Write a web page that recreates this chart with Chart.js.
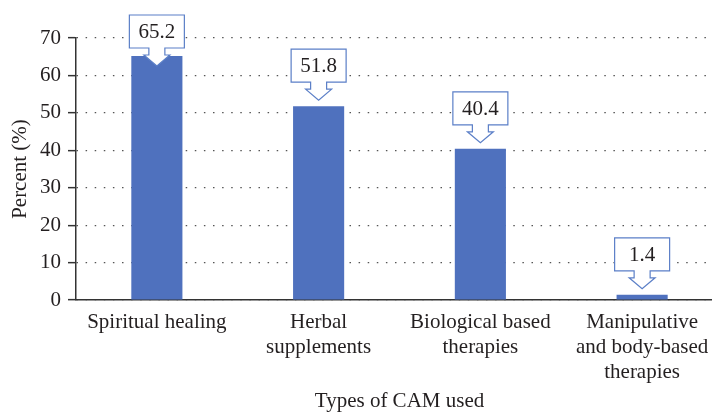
<!DOCTYPE html>
<html>
<head>
<meta charset="utf-8">
<script src="https://cdn.jsdelivr.net/npm/chart.js@4/dist/chart.umd.min.js"></script>
<style>
  html, body { margin: 0; padding: 0; background: #fff; overflow: hidden; }
  #wrap { width: 724px; height: 412px; position: relative; }
</style>
</head>
<body>
<div id="wrap"><canvas id="camChart"></canvas></div>
<script>
'use strict';

// ---------------------------------------------------------------------------
// Data
// ---------------------------------------------------------------------------

const categories = [
  ['Spiritual healing'],
  ['Herbal', 'supplements'],
  ['Biological based', 'therapies'],
  ['Manipulative', 'and body-based', 'therapies'],
];
const percentUsed = [65.2, 51.8, 40.4, 1.4];
const yTicks      = [0, 10, 20, 30, 40, 50, 60, 70];

const BAR_BLUE  = '#4f71be';
const EDGE_BLUE = '#5b7fc7';
const INK       = '#231f20';
const FONT      = "'Liberation Serif', 'Times New Roman', serif";

// ---------------------------------------------------------------------------
// Callout boxes (down-arrow shape) above each bar
// ---------------------------------------------------------------------------

const calloutPlugin = {
  id: 'callouts',
  afterDatasetsDraw(chart) {
    const ctx  = chart.ctx;
    const meta = chart.getDatasetMeta(0);
    const halfW = 27.5, boxH = 33;
    const stemW = 8, stemH = 7, headW = 13, headH = 11;

    meta.data.forEach((bar, i) => {
      const x = bar.x;
      let bottom = bar.y - 24;
      let top = bottom - boxH;
      if (top < 15) { top = 15; bottom = top + boxH; }

      ctx.save();
      ctx.beginPath();
      ctx.moveTo(x - halfW, top);
      ctx.lineTo(x + halfW, top);
      ctx.lineTo(x + halfW, bottom);
      ctx.lineTo(x + stemW, bottom);
      ctx.lineTo(x + stemW, bottom + stemH);
      ctx.lineTo(x + headW, bottom + stemH);
      ctx.lineTo(x, bottom + stemH + headH);
      ctx.lineTo(x - headW, bottom + stemH);
      ctx.lineTo(x - stemW, bottom + stemH);
      ctx.lineTo(x - stemW, bottom);
      ctx.lineTo(x - halfW, bottom);
      ctx.closePath();
      ctx.fillStyle = '#fff';
      ctx.fill();
      ctx.lineWidth = 1.2;
      ctx.strokeStyle = EDGE_BLUE;
      ctx.stroke();

      ctx.fillStyle = INK;
      ctx.font = `21px ${FONT}`;
      ctx.textAlign = 'center';
      ctx.textBaseline = 'middle';
      ctx.fillText(percentUsed[i].toFixed(1), x, (top + bottom) / 2 + 1);
      ctx.restore();
    });
  },
};

// ---------------------------------------------------------------------------
// Chart
// ---------------------------------------------------------------------------

Chart.defaults.font.family = FONT;
Chart.defaults.font.size = 21;
Chart.defaults.color = INK;

new Chart(document.getElementById('camChart').getContext('2d'), {
  type: 'bar',
  data: {
    labels: categories,
    datasets: [{
      label: 'Percent',
      data: percentUsed,
      backgroundColor: BAR_BLUE,
      borderWidth: 0,
      barPercentage: 0.316,
      categoryPercentage: 1,
    }],
  },
  options: {
    responsive: true,
    maintainAspectRatio: false,
    animation: false,
    layout: { padding: { top: 38, right: 1, left: 8, bottom: 0 } },
    plugins: {
      legend:  { display: false },
      tooltip: { enabled: false },
    },
    scales: {
      x: {
        grid:   { display: false, drawTicks: false },
        border: { display: true, color: '#333', width: 1.5 },
        ticks:  { color: INK, padding: 10, maxRotation: 0, autoSkip: false, font: { size: 21, lineHeight: 1.19 } },
        title:  { display: true, text: 'Types of CAM used', color: INK, font: { size: 21, lineHeight: 1.19 }, padding: { top: -6, bottom: -2 } },
      },
      y: {
        min: 0,
        max: 70,
        afterBuildTicks: axis => { axis.ticks = yTicks.map(v => ({ value: v })); },
        grid: {
          color: '#555',
          lineWidth: 1.3,
          tickLength: 8,
          tickColor: '#333',
          tickWidth: 1.5,
          tickBorderDash: [],
        },
        border: { display: true, color: '#333', width: 1.5, dash: [1.5, 7.6] },
        ticks:  { color: INK, padding: 7, font: { size: 21 } },
        title:  { display: true, text: 'Percent (%)', color: INK, font: { size: 21, lineHeight: 1.19 }, padding: { top: 0, bottom: 0 } },
      },
    },
  },
  plugins: [calloutPlugin],
});
</script>
</body>
</html>
